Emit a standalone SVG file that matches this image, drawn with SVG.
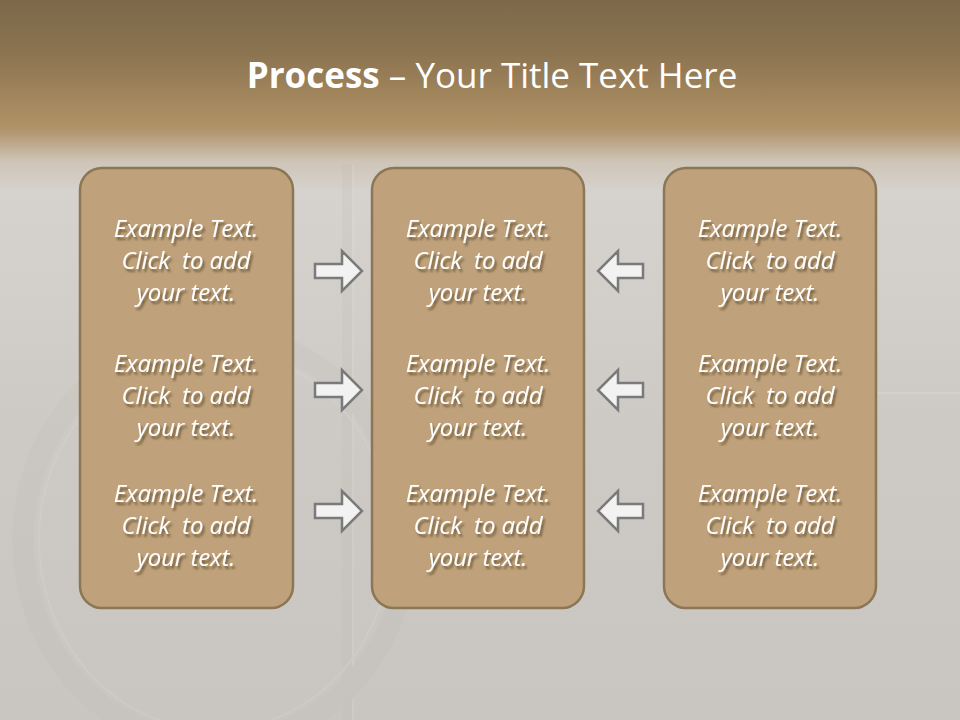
<svg xmlns="http://www.w3.org/2000/svg" width="960" height="720" viewBox="0 0 960 720">
<defs>
<linearGradient id="bg" x1="0" y1="0" x2="0" y2="1">
<stop offset="0" stop-color="#7D6949"/>
<stop offset="0.07" stop-color="#8A7350"/>
<stop offset="0.17" stop-color="#AE9064"/>
<stop offset="0.185" stop-color="#B49873"/>
<stop offset="0.225" stop-color="#CFC5B8"/>
<stop offset="0.27" stop-color="#D6D3CF"/>
<stop offset="0.6" stop-color="#CDCAC5"/>
<stop offset="1" stop-color="#C9C6C1"/>
</linearGradient>
<filter id="ts" x="-10%" y="-30%" width="130%" height="180%">
<feGaussianBlur in="SourceAlpha" stdDeviation="1.2"/>
<feOffset dx="2" dy="3" result="b"/>
<feFlood flood-color="#5a4628" flood-opacity="0.75"/>
<feComposite in2="b" operator="in"/>
<feMerge><feMergeNode/><feMergeNode in="SourceGraphic"/></feMerge>
</filter>
<path id="ra" d="M0,-7 H27 V-20 L47,0 L27,20 V7 H0 Z"/>
<path id="la" d="M0,-7 H-25 V-20 L-45,0 L-25,20 V7 H0 Z"/>
</defs>
<style>
.box{fill:#BFA27B;stroke:#8B7656;stroke-width:2.5}
.arrow{fill:#F2F2F2;stroke:#7A7A7A;stroke-width:2.5;stroke-linejoin:miter}
.t{font-family:"Open Sans","Liberation Sans",sans-serif;font-style:italic;font-size:24px;fill:#FFFFFF;text-anchor:middle;letter-spacing:-0.1px}
.title{font-family:"Open Sans","Liberation Sans",sans-serif;font-size:35px;fill:#FFFFFF;text-anchor:middle}
</style>
<rect width="960" height="720" fill="url(#bg)"/>
<g id="bgphoto" fill="none" opacity="0.18">
<rect x="342" y="165" width="12" height="555" fill="#bdb9b3"/>
<line x1="353" y1="165" x2="353" y2="720" stroke="#e6e3df" stroke-width="2"/>
<ellipse cx="215" cy="540" rx="192" ry="205" stroke="#bfbbb5" stroke-width="22"/>
<ellipse cx="215" cy="540" rx="176" ry="190" stroke="#e2dfdb" stroke-width="2"/>
<line x1="876" y1="393" x2="960" y2="393" stroke="#f2f0ed" stroke-width="2"/>
</g>
<text class="title" x="492" y="88"><tspan font-weight="bold">Process</tspan> – Your Title Text Here</text>
<g id="box-left">
<rect class="box" x="80" y="168" width="213" height="440" rx="22"/>
<g filter="url(#ts)">
<text class="t" x="186" y="237">Example Text.</text>
<text class="t" x="186" y="269">Click&#160; to add</text>
<text class="t" x="186" y="301">your text.</text>
<text class="t" x="186" y="372">Example Text.</text>
<text class="t" x="186" y="404">Click&#160; to add</text>
<text class="t" x="186" y="436">your text.</text>
<text class="t" x="186" y="502">Example Text.</text>
<text class="t" x="186" y="534">Click&#160; to add</text>
<text class="t" x="186" y="566">your text.</text>
</g>
</g>
<g id="box-middle">
<rect class="box" x="372" y="168" width="212" height="440" rx="22"/>
<g filter="url(#ts)">
<text class="t" x="478" y="237">Example Text.</text>
<text class="t" x="478" y="269">Click&#160; to add</text>
<text class="t" x="478" y="301">your text.</text>
<text class="t" x="478" y="372">Example Text.</text>
<text class="t" x="478" y="404">Click&#160; to add</text>
<text class="t" x="478" y="436">your text.</text>
<text class="t" x="478" y="502">Example Text.</text>
<text class="t" x="478" y="534">Click&#160; to add</text>
<text class="t" x="478" y="566">your text.</text>
</g>
</g>
<g id="box-right">
<rect class="box" x="664" y="168" width="212" height="440" rx="22"/>
<g filter="url(#ts)">
<text class="t" x="770" y="237">Example Text.</text>
<text class="t" x="770" y="269">Click&#160; to add</text>
<text class="t" x="770" y="301">your text.</text>
<text class="t" x="770" y="372">Example Text.</text>
<text class="t" x="770" y="404">Click&#160; to add</text>
<text class="t" x="770" y="436">your text.</text>
<text class="t" x="770" y="502">Example Text.</text>
<text class="t" x="770" y="534">Click&#160; to add</text>
<text class="t" x="770" y="566">your text.</text>
</g>
</g>
<g id="connectors">
<use href="#ra" class="arrow" x="315" y="271"/>
<use href="#ra" class="arrow" x="315" y="390"/>
<use href="#ra" class="arrow" x="315" y="511"/>
<use href="#la" class="arrow" x="643" y="271"/>
<use href="#la" class="arrow" x="643" y="390"/>
<use href="#la" class="arrow" x="643" y="511"/>
</g>
</svg>
